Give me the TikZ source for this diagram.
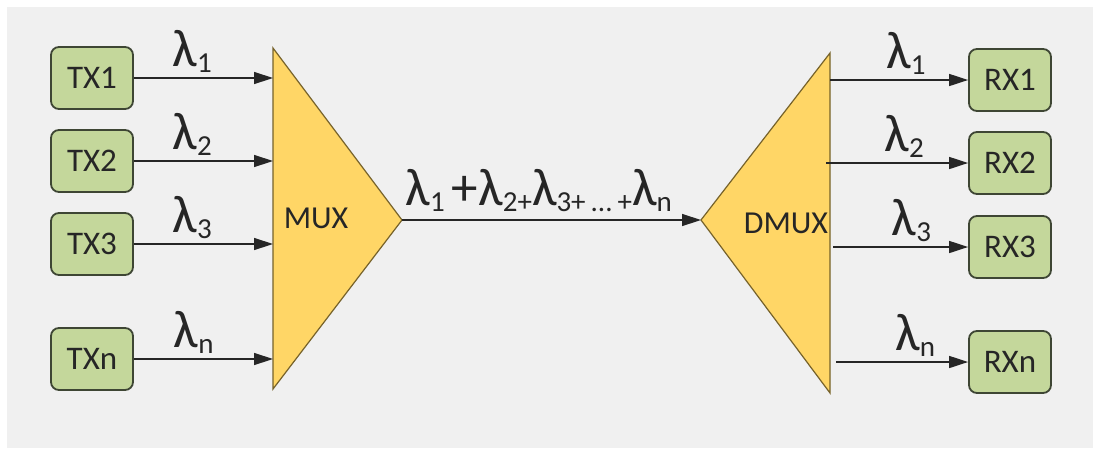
\documentclass[tikz,border=0pt]{standalone}
\usepackage{fontspec}
\setmainfont{Carlito}
\usetikzlibrary{arrows.meta}

\definecolor{boxgreen}{RGB}{196,215,155}
\definecolor{boxline}{RGB}{62,70,52}
\definecolor{muxgold}{RGB}{255,214,102}
\definecolor{muxline}{RGB}{118,98,42}
\definecolor{bggray}{RGB}{240,240,240}

\newcommand{\lam}{{\fontsize{53}{58}\selectfont λ}}
\newcommand{\sub}[1]{\raisebox{-6pt}{\fontsize{29}{32}\selectfont #1}}

\begin{document}
\begin{tikzpicture}[x=1pt,y=-1pt,
  unit/.style={draw=boxline,line width=1.8pt,fill=boxgreen,rounded corners=8pt,
    minimum width=82pt,minimum height=62pt,inner sep=0pt,
    font=\fontsize{33}{36}\selectfont,text=black!85},
  mux/.style={draw=muxline,line width=1.2pt,fill=muxgold,line join=miter},
  sig/.style={line width=1.4pt,draw=black!85,-{Triangle[length=19pt,width=12pt]}},
  wl/.style={above=5pt,inner sep=0pt,text=black!85}]
  \useasboundingbox (0,0) rectangle (1093,448);
  \fill[white] (0,0) rectangle (1093,448);
  \fill[bggray] (7,7) rectangle (1093,448);

  \node[unit] (tx1) at (92,78) {TX1};
  \node[unit] (tx2) at (92,161) {TX2};
  \node[unit] (tx3) at (92,244) {TX3};
  \node[unit] (txn) at (92,359) {TXn};

  \node[unit] (rx1) at (1010,80) {RX1};
  \node[unit] (rx2) at (1010,163) {RX2};
  \node[unit] (rx3) at (1010,247) {RX3};
  \node[unit] (rxn) at (1010,362) {RXn};

  \coordinate (mtop) at (273,48);
  \coordinate (mbot) at (273,389);
  \coordinate (mapex) at (402,220);
  \coordinate (dtop) at (830,53);
  \coordinate (dbot) at (830,393);
  \coordinate (dapex) at (701,220);

  \draw[mux] (mtop) -- (mapex) -- (mbot) -- cycle;
  \draw[mux] (dtop) -- (dapex) -- (dbot) -- cycle;
  \node[font=\fontsize{32}{35}\selectfont,text=black!85] (muxlabel) at (316,218) {MUX};
  \node[font=\fontsize{32}{35}\selectfont,text=black!85] (dmuxlabel) at (786,223) {DMUX};

  \draw[sig] (tx1) -- (tx1 -| mtop) node[wl,pos=0.42] {\lam\sub{1}};
  \draw[sig] (tx2) -- (tx2 -| mtop) node[wl,pos=0.42] {\lam\sub{2}};
  \draw[sig] (tx3) -- (tx3 -| mtop) node[wl,pos=0.42] {\lam\sub{3}};
  \draw[sig] (txn) -- (txn -| mtop) node[wl,pos=0.43] {\lam\sub{n}};

  \draw[sig] (mapex) -- (dapex)
    node[pos=0,anchor=south west,inner sep=0pt,xshift=3pt,yshift=8pt,text=black!85]
    {\lam\sub{1}\hspace{7pt}{\fontsize{53}{58}\selectfont +}\lam\sub{2+}\lam\sub{3+\hspace{5pt}...\hspace{5pt}+}\lam\sub{n}};

  \draw[sig] (rx1 -| dtop) -- (rx1) node[wl,pos=0.55] {\lam\sub{1}};
  \draw[sig] ([xshift=-4pt]rx2 -| dtop) -- (rx2) node[wl,pos=0.55] {\lam\sub{2}};
  \draw[sig] ([xshift=3pt]rx3 -| dtop) -- (rx3) node[wl,pos=0.58] {\lam\sub{3}};
  \draw[sig] ([xshift=6pt]rxn -| dtop) -- (rxn) node[wl,pos=0.6] {\lam\sub{n}};
\end{tikzpicture}
\end{document}
